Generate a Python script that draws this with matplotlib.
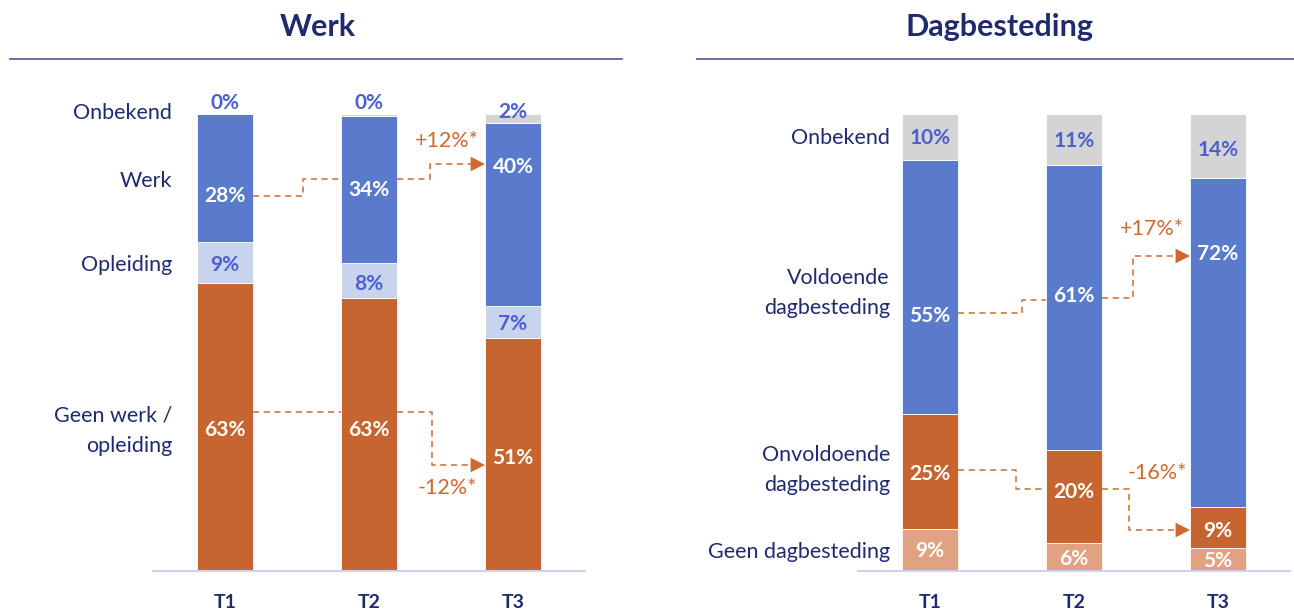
import matplotlib
matplotlib.use("Agg")
import matplotlib.pyplot as plt
import numpy as np

plt.rcParams['font.family'] = ['Lato', 'DejaVu Sans']

# ---------------- data ----------------
periods = ["T1", "T2", "T3"]

werk_categories = ["Geen werk /\nopleiding", "Opleiding", "Werk", "Onbekend"]
werk_geen = [63, 63, 51]
werk_opleiding = [9, 8, 7]
werk_werk = [28, 34, 40]
werk_onbekend = [0, 0.4, 2]

dag_categories = ["Geen dagbesteding", "Onvoldoende\ndagbesteding", "Voldoende\ndagbesteding", "Onbekend"]
dag_geen = [9, 6, 5]
dag_onvoldoende = [25, 20, 9]
dag_voldoende = [55, 61, 72]
dag_onbekend = [10, 11, 14]

werk_changes = ["+12%*", "-12%*"]
dag_changes = ["+17%*", "-16%*"]

# ---------------- style ----------------
ORANGE = "#C76530"
LORANGE = "#E0A283"
BLUE = "#5A7BCB"
LBLUE = "#C8D3EE"
GRAY = "#D4D4D4"
NAVY = "#1F2B6E"
VBLUE = "#4B5FD0"
ARROW = "#D0692F"
WHITE = "white"

fig = plt.figure(figsize=(12.94, 6.11), dpi=100)
axL = fig.add_axes([0, 0, 0.5, 1])
axR = fig.add_axes([0.5, 0, 0.5, 1])

PXY = 4.57  # pixels per % unit
PXX = 144.0  # pixels per bar step
BW = 56 / PXX


def setup(ax, x0_px):
    ax.set_xlim(-x0_px / PXX, (647 - x0_px) / PXX)
    ax.set_ylim((571 - 611) / PXY, 571 / PXY)
    ax.axis("off")


def y(px):
    return (571 - px) / PXY


def draw_panel(ax, x0_px, title, title_x, ul, series, colors, txtcols,
               label_y, cats, cat_y, cat_x, arrows, changes, change_pos):
    setup(ax, x0_px)
    x = np.arange(len(periods))
    totals = np.sum(series, axis=0)
    bottom = np.zeros(len(periods))
    for s, c in zip(series, colors):
        h = np.array(s) / totals * 100
        ax.bar(x, h, bottom=bottom, width=BW, color=c, edgecolor="white",
               linewidth=0.6, zorder=2)
        bottom += h
    # value labels
    for si, (s, tc) in enumerate(zip(series, txtcols)):
        for i in range(len(periods)):
            ax.text(x[i], label_y[si][i], f"{s[i]:.0f}%", ha="center", va="center",
                    color=tc, fontsize=15, fontweight="bold", zorder=4)
    # category labels
    for c, cy in zip(cats, cat_y):
        ax.text(cat_x, cy, c, ha="right", va="center", color=NAVY, fontsize=15.5,
                linespacing=1.65)
    # period labels
    for i, p in enumerate(periods):
        ax.text(x[i], y(603), p, ha="center", va="center", color=NAVY,
                fontsize=14, fontweight="bold")
    # base line
    ax.plot([-0.5, 2.5], [0, 0], color="#CDD0EE", lw=1.5, zorder=3, clip_on=False)
    # title and underline
    ax.text(title_x, y(27), title, ha="center", va="center", color=NAVY,
            fontsize=22, fontweight="bold")
    ax.plot(ul, [y(59), y(59)], color="#5A6497", lw=1.3, clip_on=False)
    # arrows
    for (ya, sa, yb, sb, yc, sc, yd) in arrows:
        xs1 = [BW / 2, sa, sa, 1 - BW / 2]
        ys1 = [ya, ya, yb, yb]
        ax.plot(xs1, ys1, color=ARROW, lw=1.1, ls=(0, (4, 3)), zorder=3)
        xs2 = [1 + BW / 2, sc, sc, 2 - BW / 2 - 0.09]
        ys2 = [yc, yc, yd, yd]
        ax.plot(xs2, ys2, color=ARROW, lw=1.1, ls=(0, (4, 3)), zorder=3)
        tip = 2 - BW / 2
        ax.fill([tip - 0.1, tip, tip - 0.1], [yd + 1.6, yd, yd - 1.6],
                color=ARROW, zorder=3, lw=0)
    for ch, (cx, cy) in zip(changes, change_pos):
        ax.text(cx, cy, ch, ha="center", va="center", color=ARROW, fontsize=15.5)


# ---- Werk ----
werk_series = [werk_geen, werk_opleiding, werk_werk, werk_onbekend]
draw_panel(
    axL, 225, "Werk", (318 - 225) / PXX, [(10 - 225) / PXX, (622 - 225) / PXX],
    werk_series, [ORANGE, LBLUE, BLUE, GRAY], [WHITE, VBLUE, WHITE, VBLUE],
    [[y(430), y(430), y(458)], [y(265), y(284), y(324)],
     [y(196), y(190), y(167)], [y(103), y(103), y(112)]],
    werk_categories, [y(431), y(265), y(181), y(113)], (172 - 225) / PXX,
    [(y(196), (303 - 225) / PXX, y(179), (430 - 225) / PXX, y(179), (430 - 225) / PXX, y(164)),
     (y(412), 0.7, y(412), (432 - 225) / PXX, y(412), (432 - 225) / PXX, y(465))],
    werk_changes, [((447 - 225) / PXX, y(141)), ((447 - 225) / PXX, y(488))],
)

# ---- Dagbesteding ----
dag_series = [dag_geen, dag_onvoldoende, dag_voldoende, dag_onbekend]
x0R = 930 - 647
draw_panel(
    axR, x0R, "Dagbesteding", (1000 - 930) / PXX, [(697 - 930) / PXX, (1294 - 930) / PXX],
    dag_series, [LORANGE, ORANGE, BLUE, GRAY], [WHITE, WHITE, WHITE, VBLUE],
    [[y(551), y(559), y(561)], [y(474), y(492), y(531)],
     [y(316), y(296), y(254)], [y(138), y(141), y(150)]],
    dag_categories, [y(552), y(470), y(293), y(138)], (890 - 930) / PXX,
    [(y(313), (1022 - 930) / PXX, y(300), (1133 - 930) / PXX, y(298), (1133 - 930) / PXX, y(256)),
     (y(470), (1016 - 930) / PXX, y(489), (1129 - 930) / PXX, y(489), (1129 - 930) / PXX, y(530))],
    dag_changes, [((1152 - 930) / PXX, y(229)), ((1157 - 930) / PXX, y(473))],
)

fig.savefig("out.png", dpi=100)
